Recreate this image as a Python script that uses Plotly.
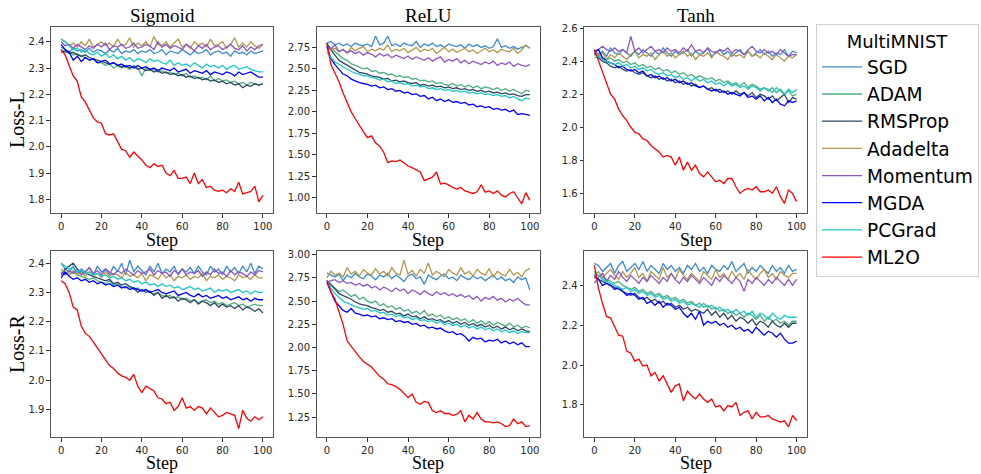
import plotly.graph_objects as go

METHODS = ["SGD", "ADAM", "RMSProp", "Adadelta", "Momentum", "MGDA", "PCGrad", "ML2O"]
COLORS = ["#3d8bcf", "#4fae80", "#2e4862", "#b3974f", "#8c55c3", "#0000ff", "#1ec6c6", "#ff0000"]
PANEL_TITLES = ["Sigmoid", "ReLU", "Tanh"]
ROW_LABELS = ["Loss-L", "Loss-R"]

# ---------------- Sigmoid / Loss-L (steps 0,2,...,100) ----------------
SIG_L_SGD = [2.38,2.37,2.36,2.375,2.365,2.37,2.36,2.375,2.36,2.37,2.365,2.355,2.37,2.36,2.375,2.355,2.365,2.36,2.37,2.355,2.365,2.36,2.37,2.355,2.36,2.37,2.35,2.365,2.36,2.355,2.37,2.36,2.35,2.365,2.355,2.36,2.37,2.35,2.36,2.365,2.355,2.36,2.345,2.365,2.355,2.36,2.35,2.365,2.355,2.36,2.365]
SIG_L_ADAM = [2.37,2.36,2.365,2.35,2.355,2.345,2.34,2.33,2.335,2.32,2.32,2.31,2.315,2.30,2.31,2.30,2.305,2.295,2.31,2.30,2.27,2.30,2.29,2.295,2.285,2.29,2.28,2.285,2.275,2.28,2.27,2.28,2.265,2.27,2.26,2.265,2.255,2.27,2.25,2.26,2.25,2.255,2.245,2.25,2.24,2.245,2.235,2.245,2.24,2.235,2.24]
SIG_L_RMS = [2.36,2.365,2.355,2.36,2.35,2.345,2.35,2.34,2.335,2.33,2.325,2.32,2.315,2.32,2.31,2.305,2.31,2.30,2.305,2.295,2.30,2.29,2.295,2.285,2.29,2.28,2.285,2.275,2.28,2.27,2.275,2.265,2.27,2.26,2.265,2.255,2.26,2.25,2.255,2.245,2.25,2.24,2.245,2.235,2.24,2.225,2.235,2.23,2.24,2.235,2.24]
SIG_L_ADADELTA = [2.41,2.40,2.385,2.395,2.38,2.40,2.385,2.41,2.38,2.39,2.40,2.385,2.395,2.38,2.41,2.385,2.39,2.415,2.38,2.395,2.385,2.40,2.38,2.42,2.39,2.385,2.40,2.38,2.395,2.41,2.38,2.39,2.375,2.40,2.385,2.395,2.38,2.41,2.385,2.39,2.40,2.375,2.39,2.415,2.38,2.395,2.38,2.40,2.385,2.375,2.39]
SIG_L_MOM = [2.40,2.385,2.39,2.375,2.39,2.38,2.37,2.385,2.375,2.39,2.38,2.395,2.37,2.385,2.38,2.39,2.375,2.38,2.395,2.375,2.38,2.39,2.385,2.37,2.40,2.38,2.39,2.375,2.385,2.38,2.37,2.39,2.38,2.365,2.385,2.375,2.39,2.37,2.38,2.385,2.37,2.38,2.39,2.375,2.37,2.385,2.365,2.38,2.37,2.385,2.39]
SIG_L_MGDA = [2.39,2.37,2.36,2.33,2.345,2.325,2.34,2.33,2.335,2.32,2.325,2.33,2.315,2.32,2.31,2.315,2.305,2.31,2.30,2.31,2.30,2.305,2.295,2.30,2.29,2.30,2.295,2.29,2.30,2.285,2.29,2.295,2.28,2.29,2.285,2.28,2.29,2.275,2.285,2.28,2.275,2.285,2.28,2.27,2.285,2.275,2.28,2.285,2.275,2.265,2.265]
SIG_L_PCG = [2.41,2.40,2.385,2.37,2.375,2.36,2.37,2.355,2.35,2.36,2.345,2.355,2.34,2.35,2.335,2.345,2.33,2.34,2.325,2.335,2.33,2.32,2.335,2.325,2.33,2.32,2.315,2.33,2.31,2.32,2.31,2.315,2.305,2.32,2.31,2.30,2.315,2.305,2.31,2.30,2.31,2.295,2.305,2.31,2.295,2.30,2.305,2.295,2.29,2.285,2.285]
SIG_L_ML2O = [2.37,2.35,2.31,2.27,2.25,2.19,2.17,2.14,2.11,2.095,2.09,2.05,2.045,2.05,2.02,1.99,1.985,1.96,1.98,1.965,1.95,1.93,1.92,1.935,1.925,1.93,1.90,1.89,1.91,1.88,1.88,1.885,1.86,1.90,1.86,1.875,1.845,1.85,1.835,1.83,1.835,1.825,1.84,1.83,1.865,1.82,1.825,1.83,1.85,1.79,1.815]

# ---------------- ReLU / Loss-L ----------------
RELU_L_SGD = [2.80,2.82,2.78,2.80,2.77,2.79,2.76,2.80,2.78,2.77,2.79,2.76,2.88,2.78,2.80,2.88,2.77,2.79,2.76,2.80,2.78,2.77,2.82,2.75,2.79,2.77,2.80,2.76,2.78,2.75,2.79,2.77,2.76,2.78,2.74,2.79,2.76,2.78,2.75,2.77,2.74,2.76,2.85,2.75,2.77,2.74,2.76,2.73,2.75,2.77,2.74]
RELU_L_ADAM = [2.78,2.74,2.70,2.66,2.62,2.60,2.56,2.54,2.52,2.50,2.51,2.47,2.48,2.45,2.46,2.43,2.44,2.41,2.42,2.40,2.41,2.38,2.39,2.36,2.37,2.35,2.36,2.33,2.34,2.32,2.31,2.33,2.30,2.32,2.29,2.31,2.28,2.30,2.27,2.29,2.28,2.26,2.28,2.25,2.27,2.24,2.26,2.23,2.21,2.25,2.24]
RELU_L_RMS = [2.80,2.72,2.66,2.60,2.57,2.54,2.51,2.49,2.46,2.45,2.44,2.42,2.41,2.40,2.38,2.39,2.36,2.37,2.35,2.36,2.34,2.33,2.34,2.31,2.32,2.30,2.31,2.29,2.30,2.28,2.29,2.27,2.28,2.26,2.27,2.25,2.26,2.24,2.25,2.23,2.24,2.22,2.23,2.21,2.22,2.20,2.21,2.19,2.18,2.20,2.20]
RELU_L_ADADELTA = [2.75,2.72,2.74,2.70,2.73,2.68,2.75,2.71,2.74,2.76,2.70,2.73,2.71,2.74,2.72,2.78,2.70,2.73,2.71,2.74,2.69,2.72,2.75,2.70,2.73,2.71,2.74,2.68,2.72,2.75,2.70,2.73,2.69,2.72,2.74,2.70,2.72,2.68,2.71,2.74,2.70,2.72,2.69,2.73,2.71,2.70,2.74,2.68,2.72,2.78,2.74]
RELU_L_MOM = [2.76,2.73,2.78,2.70,2.72,2.69,2.71,2.68,2.70,2.66,2.69,2.67,2.64,2.68,2.65,2.67,2.63,2.66,2.64,2.62,2.65,2.61,2.64,2.62,2.60,2.63,2.59,2.62,2.64,2.58,2.61,2.59,2.62,2.57,2.60,2.56,2.59,2.57,2.55,2.58,2.56,2.59,2.54,2.57,2.55,2.58,2.53,2.56,2.54,2.53,2.55]
RELU_L_MGDA = [2.76,2.62,2.55,2.50,2.44,2.42,2.38,2.36,2.34,2.33,2.32,2.30,2.31,2.28,2.29,2.26,2.27,2.24,2.25,2.22,2.23,2.20,2.21,2.18,2.19,2.15,2.17,2.13,2.15,2.12,2.14,2.11,2.12,2.10,2.11,2.08,2.09,2.06,2.07,2.05,2.06,2.03,2.04,2.02,2.03,2.00,2.02,1.97,1.98,1.97,1.96]
RELU_L_PCG = [2.70,2.63,2.58,2.55,2.52,2.50,2.47,2.45,2.44,2.42,2.42,2.40,2.39,2.37,2.38,2.35,2.36,2.33,2.34,2.32,2.33,2.30,2.31,2.29,2.30,2.27,2.28,2.26,2.27,2.25,2.26,2.24,2.25,2.23,2.24,2.22,2.23,2.21,2.22,2.20,2.21,2.19,2.20,2.18,2.19,2.16,2.18,2.15,2.13,2.16,2.15]
RELU_L_ML2O = [2.80,2.55,2.45,2.35,2.22,2.10,2.00,1.92,1.84,1.77,1.70,1.72,1.64,1.60,1.53,1.41,1.43,1.42,1.44,1.40,1.37,1.35,1.32,1.30,1.20,1.22,1.24,1.30,1.16,1.17,1.15,1.12,1.10,1.12,1.08,1.065,1.05,1.07,1.15,1.065,1.08,1.05,1.08,1.03,1.01,1.05,1.07,1.00,0.93,1.06,0.97]

# ---------------- Tanh / Loss-L ----------------
TANH_L_SGD = [2.47,2.44,2.46,2.43,2.48,2.45,2.44,2.47,2.45,2.43,2.46,2.44,2.47,2.45,2.43,2.46,2.44,2.48,2.45,2.43,2.46,2.44,2.45,2.47,2.43,2.46,2.44,2.45,2.48,2.43,2.45,2.47,2.44,2.46,2.43,2.45,2.47,2.44,2.46,2.43,2.45,2.47,2.44,2.46,2.43,2.45,2.44,2.47,2.43,2.46,2.45]
TANH_L_ADAM = [2.44,2.43,2.42,2.41,2.42,2.40,2.41,2.39,2.40,2.38,2.39,2.37,2.38,2.36,2.37,2.35,2.36,2.34,2.35,2.33,2.34,2.32,2.33,2.31,2.32,2.30,2.31,2.30,2.29,2.30,2.28,2.29,2.27,2.28,2.26,2.27,2.25,2.27,2.24,2.26,2.25,2.23,2.24,2.22,2.24,2.21,2.23,2.20,2.22,2.19,2.20]
TANH_L_RMS = [2.45,2.42,2.40,2.39,2.37,2.36,2.37,2.35,2.34,2.35,2.33,2.32,2.33,2.31,2.30,2.31,2.29,2.30,2.28,2.29,2.27,2.28,2.26,2.27,2.25,2.26,2.24,2.25,2.23,2.24,2.22,2.23,2.21,2.22,2.20,2.22,2.20,2.21,2.19,2.21,2.18,2.20,2.19,2.17,2.19,2.16,2.18,2.20,2.15,2.18,2.17]
TANH_L_ADADELTA = [2.46,2.43,2.45,2.41,2.44,2.42,2.45,2.43,2.41,2.44,2.46,2.42,2.44,2.43,2.45,2.41,2.44,2.46,2.43,2.45,2.42,2.44,2.46,2.43,2.45,2.41,2.44,2.43,2.45,2.42,2.46,2.44,2.43,2.41,2.45,2.43,2.44,2.42,2.46,2.43,2.44,2.42,2.45,2.43,2.41,2.44,2.42,2.40,2.43,2.42,2.44]
TANH_L_MOM = [2.45,2.47,2.49,2.47,2.46,2.48,2.46,2.47,2.45,2.55,2.46,2.48,2.45,2.47,2.49,2.46,2.47,2.45,2.48,2.46,2.47,2.45,2.48,2.46,2.50,2.46,2.47,2.45,2.48,2.46,2.45,2.47,2.46,2.48,2.45,2.47,2.46,2.44,2.47,2.49,2.46,2.45,2.47,2.45,2.46,2.44,2.47,2.45,2.43,2.44,2.44]
TANH_L_MGDA = [2.46,2.47,2.42,2.40,2.39,2.38,2.36,2.37,2.35,2.34,2.35,2.33,2.34,2.31,2.32,2.30,2.31,2.29,2.30,2.28,2.29,2.27,2.28,2.26,2.27,2.25,2.24,2.25,2.23,2.22,2.23,2.21,2.22,2.20,2.21,2.20,2.19,2.21,2.18,2.19,2.17,2.19,2.16,2.18,2.15,2.17,2.14,2.13,2.16,2.15,2.16]
TANH_L_PCG = [2.42,2.43,2.41,2.40,2.39,2.38,2.39,2.37,2.38,2.36,2.37,2.35,2.36,2.34,2.35,2.33,2.32,2.33,2.31,2.32,2.30,2.31,2.29,2.30,2.28,2.30,2.28,2.29,2.27,2.28,2.26,2.27,2.25,2.27,2.25,2.26,2.24,2.25,2.23,2.25,2.24,2.22,2.24,2.23,2.21,2.24,2.22,2.20,2.23,2.21,2.23]
TANH_L_ML2O = [2.47,2.40,2.33,2.27,2.20,2.17,2.11,2.07,2.04,2.00,1.97,1.96,1.93,1.92,1.89,1.87,1.85,1.82,1.83,1.82,1.77,1.82,1.74,1.79,1.74,1.77,1.72,1.70,1.73,1.70,1.67,1.68,1.66,1.69,1.69,1.64,1.60,1.62,1.63,1.62,1.64,1.61,1.61,1.62,1.60,1.64,1.58,1.54,1.62,1.60,1.55]

# ---------------- Sigmoid / Loss-R ----------------
SIG_R_SGD = [2.40,2.38,2.37,2.39,2.36,2.38,2.37,2.385,2.36,2.39,2.37,2.38,2.36,2.39,2.37,2.40,2.36,2.41,2.37,2.39,2.375,2.36,2.39,2.37,2.40,2.365,2.38,2.37,2.39,2.36,2.38,2.37,2.385,2.365,2.39,2.37,2.36,2.39,2.37,2.38,2.36,2.39,2.37,2.385,2.365,2.39,2.37,2.40,2.365,2.39,2.38]
SIG_R_ADAM = [2.37,2.365,2.36,2.37,2.36,2.355,2.35,2.345,2.35,2.34,2.335,2.33,2.34,2.325,2.33,2.32,2.315,2.32,2.31,2.315,2.305,2.31,2.30,2.295,2.30,2.29,2.285,2.29,2.28,2.285,2.275,2.28,2.27,2.275,2.265,2.27,2.275,2.265,2.27,2.26,2.265,2.255,2.26,2.265,2.255,2.26,2.25,2.255,2.26,2.255,2.255]
SIG_R_RMS = [2.36,2.38,2.39,2.40,2.38,2.37,2.365,2.36,2.355,2.35,2.345,2.34,2.345,2.33,2.335,2.325,2.33,2.32,2.315,2.30,2.31,2.30,2.305,2.29,2.30,2.28,2.29,2.28,2.285,2.27,2.28,2.275,2.265,2.275,2.26,2.27,2.265,2.255,2.265,2.25,2.26,2.25,2.255,2.245,2.255,2.24,2.25,2.245,2.235,2.245,2.23]
SIG_R_ADADELTA = [2.38,2.37,2.36,2.375,2.36,2.37,2.355,2.37,2.36,2.365,2.35,2.37,2.355,2.365,2.36,2.35,2.37,2.355,2.36,2.35,2.365,2.34,2.36,2.355,2.345,2.365,2.35,2.36,2.34,2.355,2.35,2.36,2.345,2.355,2.35,2.365,2.34,2.355,2.35,2.36,2.345,2.355,2.35,2.34,2.36,2.35,2.355,2.345,2.36,2.35,2.35]
SIG_R_MOM = [2.37,2.36,2.375,2.365,2.38,2.36,2.37,2.385,2.365,2.375,2.36,2.38,2.37,2.36,2.375,2.365,2.38,2.37,2.36,2.375,2.365,2.37,2.38,2.36,2.375,2.365,2.37,2.355,2.375,2.365,2.38,2.36,2.37,2.365,2.375,2.355,2.37,2.36,2.38,2.365,2.37,2.355,2.375,2.36,2.37,2.365,2.355,2.37,2.36,2.375,2.37]
SIG_R_MGDA = [2.35,2.37,2.355,2.345,2.35,2.34,2.345,2.335,2.34,2.33,2.335,2.325,2.33,2.32,2.325,2.315,2.32,2.31,2.315,2.31,2.305,2.31,2.30,2.305,2.31,2.30,2.295,2.30,2.305,2.29,2.295,2.30,2.29,2.285,2.295,2.285,2.29,2.28,2.285,2.29,2.28,2.285,2.275,2.28,2.285,2.275,2.28,2.27,2.28,2.275,2.275]
SIG_R_PCG = [2.40,2.39,2.38,2.385,2.37,2.375,2.365,2.37,2.36,2.365,2.355,2.36,2.35,2.355,2.345,2.35,2.34,2.345,2.335,2.34,2.33,2.335,2.325,2.33,2.32,2.33,2.32,2.325,2.315,2.32,2.31,2.315,2.32,2.31,2.315,2.305,2.31,2.315,2.30,2.31,2.305,2.31,2.30,2.305,2.31,2.30,2.305,2.295,2.305,2.30,2.30]
SIG_R_ML2O = [2.34,2.33,2.30,2.25,2.24,2.185,2.16,2.15,2.13,2.11,2.094,2.07,2.05,2.04,2.025,2.015,2.01,2.00,2.02,1.98,1.958,1.98,1.97,1.963,1.94,1.936,1.92,1.925,1.897,1.91,1.94,1.905,1.91,1.897,1.91,1.905,1.885,1.905,1.89,1.875,1.88,1.89,1.885,1.88,1.835,1.897,1.87,1.86,1.875,1.865,1.875]

# ---------------- ReLU / Loss-R ----------------
RELU_R_SGD = [2.80,2.78,2.76,2.79,2.72,2.78,2.75,2.80,2.76,2.74,2.79,2.77,2.73,2.78,2.76,2.80,2.74,2.78,2.75,2.71,2.77,2.79,2.74,2.76,2.68,2.78,2.75,2.73,2.77,2.79,2.74,2.76,2.72,2.78,2.75,2.73,2.77,2.74,2.76,2.72,2.75,2.78,2.73,2.76,2.72,2.74,2.70,2.76,2.73,2.75,2.62]
RELU_R_ADAM = [2.72,2.68,2.64,2.60,2.62,2.58,2.55,2.57,2.52,2.54,2.50,2.48,2.50,2.45,2.47,2.43,2.45,2.41,2.43,2.39,2.41,2.37,2.39,2.36,2.40,2.34,2.36,2.33,2.35,2.31,2.33,2.30,2.32,2.29,2.31,2.27,2.30,2.26,2.29,2.25,2.28,2.24,2.27,2.25,2.23,2.26,2.22,2.24,2.21,2.23,2.21]
RELU_R_RMS = [2.72,2.68,2.63,2.58,2.56,2.54,2.52,2.49,2.47,2.46,2.45,2.43,2.42,2.40,2.41,2.38,2.39,2.36,2.37,2.34,2.36,2.33,2.34,2.31,2.33,2.30,2.31,2.29,2.30,2.27,2.29,2.26,2.28,2.25,2.27,2.24,2.26,2.23,2.25,2.22,2.24,2.21,2.23,2.20,2.22,2.19,2.21,2.18,2.20,2.18,2.17]
RELU_R_ADADELTA = [2.75,2.82,2.78,2.80,2.76,2.86,2.79,2.82,2.77,2.84,2.80,2.78,2.85,2.79,2.82,2.77,2.86,2.80,2.78,2.94,2.79,2.83,2.77,2.84,2.80,2.91,2.78,2.82,2.79,2.76,2.84,2.80,2.78,2.86,2.79,2.82,2.77,2.84,2.80,2.78,2.85,2.76,2.82,2.79,2.77,2.84,2.78,2.81,2.76,2.83,2.85]
RELU_R_MOM = [2.70,2.72,2.73,2.70,2.72,2.69,2.70,2.67,2.69,2.66,2.68,2.64,2.66,2.62,2.65,2.63,2.60,2.64,2.61,2.63,2.58,2.62,2.60,2.57,2.61,2.58,2.56,2.60,2.57,2.59,2.56,2.58,2.55,2.57,2.54,2.56,2.52,2.55,2.50,2.54,2.52,2.55,2.51,2.53,2.49,2.52,2.50,2.53,2.49,2.46,2.46]
RELU_R_MGDA = [2.70,2.60,2.50,2.45,2.40,2.38,2.42,2.37,2.36,2.34,2.35,2.33,2.34,2.31,2.32,2.30,2.31,2.28,2.29,2.27,2.28,2.25,2.26,2.23,2.24,2.21,2.22,2.20,2.21,2.18,2.16,2.17,2.14,2.15,2.12,2.07,2.11,2.09,2.10,2.06,2.08,2.07,2.09,2.05,2.07,2.04,2.06,2.03,2.05,2.01,2.01]
RELU_R_PCG = [2.72,2.64,2.58,2.54,2.50,2.48,2.46,2.44,2.43,2.41,2.42,2.39,2.40,2.37,2.38,2.35,2.36,2.33,2.35,2.32,2.33,2.30,2.32,2.29,2.30,2.28,2.29,2.26,2.28,2.25,2.26,2.24,2.25,2.22,2.24,2.21,2.23,2.20,2.22,2.19,2.21,2.18,2.20,2.17,2.19,2.16,2.18,2.15,2.17,2.16,2.16]
RELU_R_ML2O = [2.72,2.60,2.52,2.38,2.25,2.07,2.01,1.95,1.90,1.85,1.82,1.79,1.74,1.69,1.66,1.61,1.60,1.58,1.55,1.50,1.46,1.50,1.41,1.39,1.42,1.41,1.32,1.30,1.32,1.29,1.29,1.27,1.28,1.32,1.20,1.27,1.23,1.30,1.23,1.20,1.20,1.19,1.20,1.18,1.15,1.16,1.23,1.18,1.20,1.15,1.16]

# ---------------- Tanh / Loss-R ----------------
TANH_R_SGD = [2.51,2.50,2.47,2.49,2.51,2.46,2.50,2.52,2.47,2.49,2.51,2.48,2.52,2.47,2.50,2.48,2.46,2.51,2.48,2.50,2.47,2.49,2.46,2.50,2.48,2.51,2.47,2.49,2.46,2.50,2.48,2.47,2.50,2.48,2.52,2.47,2.49,2.51,2.46,2.49,2.47,2.50,2.48,2.46,2.50,2.47,2.49,2.46,2.50,2.47,2.48]
TANH_R_ADAM = [2.47,2.45,2.44,2.43,2.42,2.41,2.42,2.40,2.39,2.38,2.39,2.37,2.38,2.36,2.37,2.35,2.36,2.34,2.35,2.33,2.34,2.32,2.33,2.31,2.32,2.30,2.31,2.29,2.30,2.28,2.29,2.27,2.28,2.26,2.27,2.25,2.26,2.24,2.26,2.25,2.23,2.25,2.22,2.24,2.22,2.23,2.21,2.22,2.20,2.22,2.22]
TANH_R_RMS = [2.44,2.43,2.42,2.41,2.40,2.39,2.38,2.37,2.36,2.35,2.36,2.34,2.33,2.34,2.32,2.33,2.31,2.32,2.30,2.31,2.29,2.30,2.28,2.29,2.27,2.28,2.27,2.26,2.28,2.25,2.27,2.24,2.26,2.23,2.25,2.22,2.24,2.23,2.21,2.23,2.20,2.22,2.21,2.19,2.22,2.20,2.19,2.21,2.19,2.21,2.21]
TANH_R_ADADELTA = [2.45,2.47,2.44,2.46,2.48,2.45,2.43,2.47,2.44,2.46,2.49,2.44,2.46,2.42,2.47,2.45,2.43,2.49,2.44,2.46,2.43,2.48,2.45,2.43,2.46,2.44,2.42,2.47,2.45,2.43,2.48,2.44,2.46,2.43,2.47,2.44,2.46,2.43,2.48,2.45,2.43,2.46,2.48,2.44,2.46,2.43,2.47,2.45,2.44,2.46,2.46]
TANH_R_MOM = [2.41,2.44,2.46,2.42,2.45,2.43,2.47,2.44,2.42,2.45,2.43,2.41,2.44,2.42,2.45,2.43,2.41,2.44,2.42,2.46,2.43,2.41,2.44,2.42,2.45,2.43,2.41,2.44,2.42,2.40,2.44,2.42,2.45,2.43,2.41,2.44,2.42,2.37,2.43,2.41,2.44,2.42,2.40,2.43,2.41,2.44,2.42,2.40,2.43,2.40,2.43]
TANH_R_MGDA = [2.45,2.43,2.40,2.41,2.40,2.38,2.39,2.37,2.35,2.36,2.35,2.33,2.34,2.31,2.32,2.30,2.32,2.29,2.31,2.30,2.28,2.29,2.26,2.24,2.26,2.23,2.27,2.20,2.22,2.21,2.22,2.20,2.21,2.19,2.20,2.18,2.19,2.17,2.18,2.16,2.19,2.17,2.15,2.17,2.16,2.14,2.16,2.13,2.11,2.11,2.12]
TANH_R_PCG = [2.46,2.45,2.43,2.42,2.41,2.40,2.39,2.38,2.39,2.37,2.38,2.36,2.37,2.35,2.36,2.34,2.35,2.33,2.34,2.32,2.33,2.31,2.32,2.30,2.31,2.30,2.29,2.31,2.29,2.30,2.28,2.29,2.27,2.28,2.26,2.28,2.26,2.27,2.25,2.27,2.24,2.26,2.25,2.23,2.26,2.24,2.23,2.25,2.24,2.24,2.24]
TANH_R_ML2O = [2.50,2.385,2.31,2.244,2.236,2.195,2.15,2.145,2.07,2.06,2.02,2.03,1.995,2.00,1.946,1.963,1.92,1.946,1.905,1.863,1.896,1.905,1.82,1.87,1.846,1.83,1.855,1.83,1.813,1.83,1.79,1.797,1.77,1.797,1.79,1.813,1.747,1.763,1.77,1.73,1.763,1.74,1.74,1.747,1.73,1.722,1.714,1.72,1.69,1.747,1.722]

X_TICKS = [0, 20, 40, 60, 80, 100]
Y_TICKS = [
    [1.8, 1.9, 2.0, 2.1, 2.2, 2.3, 2.4],
    [1.00, 1.25, 1.50, 1.75, 2.00, 2.25, 2.50, 2.75],
    [1.6, 1.8, 2.0, 2.2, 2.4, 2.6],
    [1.9, 2.0, 2.1, 2.2, 2.3, 2.4],
    [1.25, 1.50, 1.75, 2.00, 2.25, 2.50, 2.75, 3.00],
    [1.8, 2.0, 2.2, 2.4],
]
Y_FORMATS = [".1f", ".2f", ".1f", ".1f", ".2f", ".1f"]
Y_RANGES = [[1.747, 2.457], [0.82, 2.99], [1.48, 2.608], [1.806, 2.442], [1.037, 3.04], [1.639, 2.573]]

PANELS = [
    [SIG_L_SGD, SIG_L_ADAM, SIG_L_RMS, SIG_L_ADADELTA, SIG_L_MOM, SIG_L_MGDA, SIG_L_PCG, SIG_L_ML2O],
    [RELU_L_SGD, RELU_L_ADAM, RELU_L_RMS, RELU_L_ADADELTA, RELU_L_MOM, RELU_L_MGDA, RELU_L_PCG, RELU_L_ML2O],
    [TANH_L_SGD, TANH_L_ADAM, TANH_L_RMS, TANH_L_ADADELTA, TANH_L_MOM, TANH_L_MGDA, TANH_L_PCG, TANH_L_ML2O],
    [SIG_R_SGD, SIG_R_ADAM, SIG_R_RMS, SIG_R_ADADELTA, SIG_R_MOM, SIG_R_MGDA, SIG_R_PCG, SIG_R_ML2O],
    [RELU_R_SGD, RELU_R_ADAM, RELU_R_RMS, RELU_R_ADADELTA, RELU_R_MOM, RELU_R_MGDA, RELU_R_PCG, RELU_R_ML2O],
    [TANH_R_SGD, TANH_R_ADAM, TANH_R_RMS, TANH_R_ADADELTA, TANH_R_MOM, TANH_R_MGDA, TANH_R_PCG, TANH_R_ML2O],
]

# ---------------- layout geometry (pixels) ----------------
W, H = 981, 474
COL_PX = [(51, 273), (316.7, 540), (584.3, 806.7)]
ROW_PX = [(23, 211), (249, 436.7)]

fig = go.Figure()
layout = {}
for p in range(6):
    r, c = divmod(p, 3)
    n = p + 1
    xa = "x" if n == 1 else f"x{n}"
    ya = "y" if n == 1 else f"y{n}"
    for m, (name, col, ys) in enumerate(zip(METHODS, COLORS, PANELS[p])):
        xs = list(range(0, 2 * len(ys), 2))
        fig.add_trace(go.Scatter(
            x=xs, y=ys, mode="lines", name=name, legendgroup=name,
            showlegend=(p == 0), line=dict(color=col, width=1.3),
            xaxis=xa, yaxis=ya,
        ))
    x0, x1 = COL_PX[c]
    y0, y1 = ROW_PX[r]
    axstyle = dict(showline=True, mirror=True, linecolor="#555555", linewidth=1.2,
                   ticks="outside", ticklen=3.5, tickwidth=0.8, tickcolor="#333333",
                   showgrid=False, zeroline=False,
                   tickfont=dict(family="DejaVu Sans", size=10, color="#262626"))
    layout["xaxis" if n == 1 else f"xaxis{n}"] = dict(
        domain=[x0 / W, x1 / W], range=[-5, 105], tickvals=X_TICKS,
        anchor=ya, **axstyle)
    layout["yaxis" if n == 1 else f"yaxis{n}"] = dict(
        domain=[1 - y1 / H, 1 - y0 / H], range=Y_RANGES[p], tickvals=Y_TICKS[p],
        tickformat=Y_FORMATS[p], anchor=xa, **axstyle)

annotations = []
serif = "Liberation Serif, Times New Roman, serif"
for c in range(3):
    cx = (COL_PX[c][0] + COL_PX[c][1]) / 2 / W
    annotations.append(dict(text=PANEL_TITLES[c], x=cx, y=1 - 12 / H, xref="paper", yref="paper",
                            showarrow=False, font=dict(family=serif, size=19, color="black"),
                            xanchor="center", yanchor="middle"))
    for yy in (238, 463):
        annotations.append(dict(text="Step", x=cx, y=1 - yy / H, xref="paper", yref="paper",
                                showarrow=False, font=dict(family=serif, size=18, color="black"),
                                xanchor="center", yanchor="middle", borderpad=0))
for r in range(2):
    cy = 1 - (ROW_PX[r][0] + ROW_PX[r][1]) / 2 / H
    annotations.append(dict(text=ROW_LABELS[r], x=17 / W, y=cy, xref="paper", yref="paper",
                            showarrow=False, textangle=-90,
                            font=dict(family=serif, size=20, color="black"),
                            xanchor="center", yanchor="middle"))

fig.update_layout(
    width=W, height=H, margin=dict(l=0, r=0, t=0, b=0),
    paper_bgcolor="white", plot_bgcolor="white",
    annotations=annotations,
    legend=dict(
        x=816 / W, y=1 - 20 / H, xanchor="left", yanchor="top",
        bgcolor="white", bordercolor="#d0d0d0", borderwidth=1,
        font=dict(family="DejaVu Sans", size=18.6, color="black"),
        title=dict(text="MultiMNIST", side="top center",
                   font=dict(family="DejaVu Sans", size=18, color="black")),
        tracegroupgap=0, itemwidth=40,
    ),
    **layout,
)

fig.write_html("out.html")
